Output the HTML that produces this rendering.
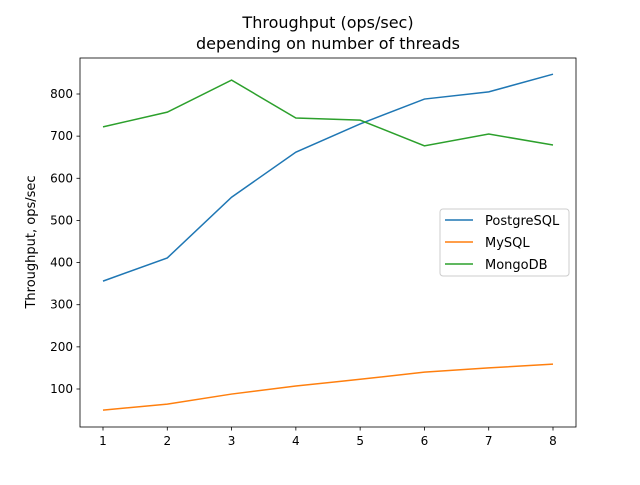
<!DOCTYPE html>
<html><head><meta charset="utf-8"><style>
body{margin:0;background:#fff;}
svg{font-family:"DejaVu Sans","Liberation Sans",sans-serif;}
</style></head><body>
<svg id="chart" width="640" height="480" xmlns="http://www.w3.org/2000/svg">
<text x="328" y="28" font-size="16" text-anchor="middle">Throughput (ops/sec)</text>
<text x="328" y="49" font-size="16" text-anchor="middle">depending on number of threads</text>
<text transform="translate(35,242) rotate(-90)" font-size="13" text-anchor="middle">Throughput, ops/sec</text>
<g id="plot"></g>
</svg>
<script>
const categories=[1,2,3,4,5,6,7,8];
const postgres=[356,411,555,662,729,788,805,847];
const mysql=[50,64,88,107,123,140,150,159];
const mongo=[722,757,833,743,738,677,705,679];
const yTicks=[100,200,300,400,500,600,700,800];
const seriesNames=["PostgreSQL","MySQL","MongoDB"];
const colors=["#1f77b4","#ff7f0e","#2ca02c"];
const L=80,R=576,T=58,B=427;
const xs=v=>103+(v-1)*(450/7);
const ys=v=>389-(v-100)*(295/700);
const NS="http://www.w3.org/2000/svg";
const g=document.getElementById('plot');
function mk(t,a){const e=document.createElementNS(NS,t);for(const k in a)e.setAttribute(k,a[k]);g.appendChild(e);return e;}
[postgres,mysql,mongo].forEach((d,i)=>{
  const p=mk('polyline',{points:d.map((v,j)=>xs(categories[j])+','+ys(v)).join(' '),fill:'none',stroke:colors[i],'stroke-width':1.5});
  
  
});
const frame=mk('rect',{x:L,y:T,width:R-L,height:B-T,fill:'none',stroke:'#000','stroke-width':0.8});


categories.forEach(c=>{
  mk('line',{x1:xs(c),x2:xs(c),y1:B,y2:B+3.5,stroke:'#000','stroke-width':0.8});
  const t=mk('text',{x:xs(c),y:B+18,'font-size':12,'text-anchor':'middle'});t.textContent=c;
  
  
});
yTicks.forEach(v=>{
  mk('line',{x1:L-3.5,x2:L,y1:ys(v),y2:ys(v),stroke:'#000','stroke-width':0.8});
  const t=mk('text',{x:L-7,y:ys(v)+4,'font-size':12,'text-anchor':'end'});t.textContent=v;
  
  
});
const lg=mk('rect',{x:440,y:209,width:129,height:67,rx:3,fill:'#fff','fill-opacity':0.8,stroke:'#ccc'});


seriesNames.forEach((n,i)=>{
  const y=220+i*22;
  mk('line',{x1:445,x2:473,y1:y,y2:y,stroke:colors[i],'stroke-width':1.5});
  const t=mk('text',{x:485,y:y+5,'font-size':13});t.textContent=n;
  
  
});
</script>
</body></html>
